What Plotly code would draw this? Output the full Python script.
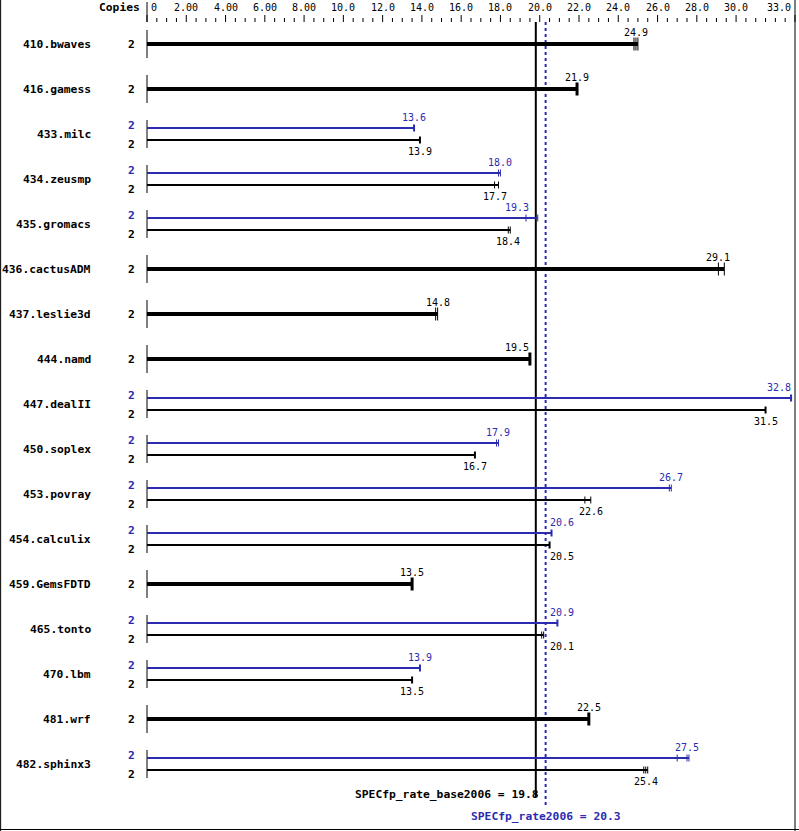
import plotly.graph_objects as go

# ---------------- data ----------------
names = ["410.bwaves", "416.gamess", "433.milc", "434.zeusmp", "435.gromacs",
         "436.cactusADM", "437.leslie3d", "444.namd", "447.dealII", "450.soplex",
         "453.povray", "454.calculix", "459.GemsFDTD", "465.tonto", "470.lbm",
         "481.wrf", "482.sphinx3"]
base_copies = [2] * 17
peak_copies = [None, None, 2, 2, 2, None, None, None, 2, 2, 2, 2, None, 2, 2, None, 2]

base_median = [24.9, 21.9, 13.9, 17.7, 18.4, 29.1, 14.8, 19.5, 31.5, 16.7,
               22.6, 20.5, 13.5, 20.1, 13.5, 22.5, 25.4]
base_runs = [
    [24.8, 24.9, 25.0], [21.9, 21.9, 21.9], [13.9, 13.9, 13.9], [17.7, 17.7, 17.9],
    [18.4, 18.4, 18.5], [29.1, 29.1, 29.4], [14.7, 14.8, 14.8], [19.5, 19.5, 19.5],
    [31.5, 31.5, 31.5], [16.7, 16.7, 16.7], [22.3, 22.6, 22.6], [20.5, 20.5, 20.5],
    [13.5, 13.5, 13.5], [20.1, 20.1, 20.2], [13.5, 13.5, 13.5], [22.5, 22.5, 22.5],
    [25.3, 25.4, 25.5]]
peak_median = [None, None, 13.6, 18.0, 19.3, None, None, None, 32.8, 17.9,
               26.7, 20.6, None, 20.9, 13.9, None, 27.5]
peak_runs = [
    None, None, [13.6, 13.6, 13.6], [17.9, 18.0, 18.0], [19.3, 19.3, 19.9],
    None, None, None, [32.8, 32.8, 32.8], [17.8, 17.9, 17.9], [26.6, 26.7, 26.7],
    [20.6, 20.6, 20.6], None, [20.9, 20.9, 20.9], [13.9, 13.9, 13.9], None,
    [27.0, 27.5, 27.6]]

base_overall = 19.8
peak_overall = 20.3
base_label = "SPECfp_rate_base2006 = 19.8"
peak_label = "SPECfp_rate2006 = 20.3"

major_ticks = [0, 2, 4, 6, 8, 10, 12, 14, 16, 18, 20, 22, 24, 26, 28, 30, 33]
major_labels = ["0", "2.00", "4.00", "6.00", "8.00", "10.0", "12.0", "14.0", "16.0",
                "18.0", "20.0", "22.0", "24.0", "26.0", "28.0", "30.0", "33.0"]
x_max = 33

# ---------------- layout constants ----------------
W, H = 799, 831
X0PX, X1PX = 147, 795
SCALE = (X1PX - X0PX) / x_max
ROW0, ROWH = 44, 45
BLUE = "#2b2bb0"
BLACK = "#000000"
FONT = "DejaVu Sans Mono"
NAME_SIZE = 11.3
VAL_SIZE = 10
LAB_HALF = 12  # px, half width of a value label


def px_y(p):
    """pixel row -> y data"""
    return (p - ROW0) / ROWH


def dy(p):
    return p / ROWH


def dx(p):
    return p / SCALE


lo_line = min(base_overall, peak_overall)
hi_line = max(base_overall, peak_overall)


def label_pos(v):
    """place value label centred at v, but keep it clear of the overall lines / edge"""
    if v + dx(LAB_HALF + 2) > x_max:
        return x_max - dx(2), "right"
    left, right = v - dx(LAB_HALF), v + dx(LAB_HALF)
    if right > lo_line - dx(3) and left < hi_line + dx(2):
        if v < (lo_line + hi_line) / 2:
            return lo_line - dx(5), "right"
        return hi_line + dx(2), "left"
    return v, "center"


fig = go.Figure()

thick_x, thick_y = [], []
thin_bx, thin_by = [], []
thin_px, thin_py = [], []
tick_traces = []  # (xs, ys, color, width)
ann = []


def add_ticks(runs, yc, half, color, thick):
    distinct = sorted(set(runs))
    w = 1 if len(distinct) > 1 else (3 if thick else 2)
    xs, ys = [], []
    for v in distinct:
        xs += [v, v, None]
        ys += [yc - dy(half), yc + dy(half), None]
    tick_traces.append((xs, ys, color, w))


for i, nm in enumerate(names):
    yc = i
    ann.append(dict(x=dx(93 - X0PX), y=yc, text="<b>%s</b>" % nm, xanchor="right",
                    font=dict(size=NAME_SIZE, color=BLACK)))
    if peak_runs[i] is None:
        thick_x += [0, max(base_runs[i]), None]
        thick_y += [yc, yc, None]
        add_ticks(base_runs[i], yc, 6.5, BLACK, True)
        ann.append(dict(x=dx(131 - X0PX), y=yc, text="<b>%d</b>" % base_copies[i],
                        xanchor="center", font=dict(size=NAME_SIZE, color=BLACK)))
        lx, la = label_pos(base_median[i])
        ann.append(dict(x=lx, y=yc - dy(11.5), text="%.1f" % base_median[i],
                        xanchor=la, font=dict(size=VAL_SIZE, color=BLACK)))
    else:
        yp, yb = yc - dy(6), yc + dy(6)
        thin_px += [0, max(peak_runs[i]), None]
        thin_py += [yp, yp, None]
        thin_bx += [0, max(base_runs[i]), None]
        thin_by += [yb, yb, None]
        add_ticks(peak_runs[i], yp, 3.5, BLUE, False)
        add_ticks(base_runs[i], yb, 3.5, BLACK, False)
        ann.append(dict(x=dx(131 - X0PX), y=yc - dy(8.5), text="<b>%d</b>" % peak_copies[i],
                        xanchor="center", font=dict(size=NAME_SIZE, color=BLUE)))
        ann.append(dict(x=dx(131 - X0PX), y=yc + dy(10), text="<b>%d</b>" % base_copies[i],
                        xanchor="center", font=dict(size=NAME_SIZE, color=BLACK)))
        lx, la = label_pos(peak_median[i])
        ann.append(dict(x=lx, y=yc - dy(17), text="%.1f" % peak_median[i],
                        xanchor=la, font=dict(size=VAL_SIZE, color=BLUE)))
        lx, la = label_pos(base_median[i])
        ann.append(dict(x=lx, y=yc + dy(17.5), text="%.1f" % base_median[i],
                        xanchor=la, font=dict(size=VAL_SIZE, color=BLACK)))

# left row segments
seg_x, seg_y = [0, 0, None], [px_y(2), px_y(22), None]
for i in range(len(names)):
    seg_x += [0, 0, None]
    seg_y += [i - dy(14), i + dy(14), None]
fig.add_trace(go.Scatter(x=seg_x, y=seg_y, mode="lines", line=dict(color=BLACK, width=1),
                         hoverinfo="skip"))

# overall reference lines
fig.add_trace(go.Scatter(x=[base_overall, base_overall], y=[px_y(22), px_y(797)], mode="lines",
                         line=dict(color=BLACK, width=2), hoverinfo="skip"))
fig.add_trace(go.Scatter(x=[peak_overall, peak_overall], y=[px_y(22), px_y(808)], mode="lines",
                         line=dict(color=BLUE, width=2, dash="dot"), hoverinfo="skip"))

fig.add_trace(go.Scatter(x=thick_x, y=thick_y, mode="lines", line=dict(color=BLACK, width=4),
                         hoverinfo="skip"))
fig.add_trace(go.Scatter(x=thin_bx, y=thin_by, mode="lines", line=dict(color=BLACK, width=2),
                         hoverinfo="skip"))
fig.add_trace(go.Scatter(x=thin_px, y=thin_py, mode="lines", line=dict(color=BLUE, width=2),
                         hoverinfo="skip"))
for xs, ys, c, w in tick_traces:
    fig.add_trace(go.Scatter(x=xs, y=ys, mode="lines", line=dict(color=c, width=w),
                             hoverinfo="skip"))

# top axis ticks
tx, ty = [], []
v = 0.0
while v <= x_max + 1e-9:
    is_major = any(abs(v - m) < 1e-9 for m in major_ticks)
    tx += [v, v, None]
    ty += [px_y(15 if is_major else 18), px_y(22), None]
    v += 0.5
fig.add_trace(go.Scatter(x=tx, y=ty, mode="lines", line=dict(color=BLACK, width=1),
                         hoverinfo="skip"))
for k, (m, lab) in enumerate(zip(major_ticks, major_labels)):
    anchor = "left" if k == 0 else ("right" if k == len(major_ticks) - 1 else "center")
    xx = m + (dx(2) if k == 0 else (-dx(2) if anchor == "right" else 0))
    ann.append(dict(x=xx, y=px_y(7.5), text=lab, xanchor=anchor,
                    font=dict(size=VAL_SIZE, color=BLACK)))
ann.append(dict(x=dx(142 - X0PX), y=px_y(7.5), text="<b>Copies</b>", xanchor="right",
                font=dict(size=NAME_SIZE, color=BLACK)))

# overall labels
ann.append(dict(x=base_overall + dx(5), y=px_y(794), text="<b>%s</b>" % base_label,
                xanchor="right", font=dict(size=NAME_SIZE, color=BLACK)))
ann.append(dict(x=peak_overall, y=px_y(816), text="<b>%s</b>" % peak_label,
                xanchor="center", font=dict(size=NAME_SIZE, color=BLUE)))

for a in ann:
    a.update(xref="x", yref="y", showarrow=False, yanchor="middle",
             font=dict(family=FONT, **a["font"]))

# borders
shapes = [
    dict(type="line", xref="paper", yref="paper", x0=0.0008, x1=0.0008, y0=0, y1=1,
         line=dict(color=BLACK, width=1)),
    dict(type="line", xref="paper", yref="paper", x0=0, x1=1, y0=1.5 / H, y1=1.5 / H,
         line=dict(color=BLACK, width=1)),
    dict(type="line", xref="x", yref="paper", x0=x_max, x1=x_max, y0=0, y1=1,
         line=dict(color=BLACK, width=1)),
]

fig.update_layout(
    width=W, height=H, margin=dict(l=0, r=0, t=0, b=0),
    paper_bgcolor="white", plot_bgcolor="white", showlegend=False,
    xaxis=dict(range=[-X0PX / SCALE, (W - X0PX) / SCALE], visible=False, fixedrange=True),
    yaxis=dict(range=[(H - ROW0) / ROWH, -ROW0 / ROWH], visible=False, fixedrange=True),
    annotations=ann, shapes=shapes,
)

fig.write_html("out.html", config={"displayModeBar": False},
               post_script="document.body.style.margin='0';document.body.style.overflow='hidden';")
